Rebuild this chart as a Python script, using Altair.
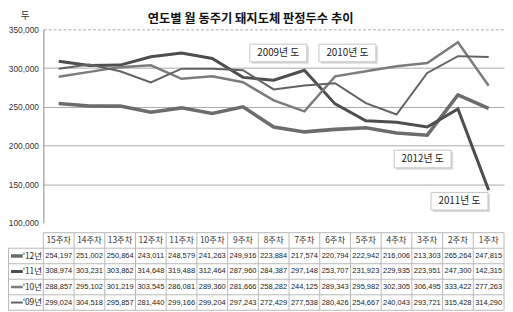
import altair as alt
import pandas as pd

# ---------------- data ----------------
title_text = "연도별 월 동주기 돼지도체 판정두수 추이"
y_unit = "두"
weeks = ["15주차", "14주차", "13주차", "12주차", "11주차", "10주차", "9주차", "8주차",
         "7주차", "6주차", "5주차", "4주차", "3주차", "2주차", "1주차"]
series = ["'12년", "'11년", "'10년", "'09년"]
v12 = [254197, 251002, 250864, 243011, 248579, 241263, 249916, 223884,
       217574, 220794, 222942, 216006, 213303, 265264, 247815]
v11 = [308974, 303231, 303862, 314648, 319488, 312464, 287960, 284387,
       297148, 253707, 231923, 229935, 223951, 247300, 142315]
v10 = [288857, 295102, 301219, 303545, 286081, 289360, 281666, 258282,
       244125, 289343, 295982, 302305, 306495, 333422, 277263]
v09 = [299024, 304518, 295857, 281440, 299166, 299204, 297243, 272429,
       277538, 280426, 254667, 240043, 293721, 315428, 314290]
y_ticks = [100000, 150000, 200000, 250000, 300000, 350000]

ann_text = ["2009년 도", "2010년 도", "2012년 도", "2011년 도"]
ann_x = [7.65, 9.9, 12.35, 13.55]
ann_y = [319500, 319500, 182500, 128000]

# ---------------- styles ----------------
colors = ["#6c6c6c", "#4e4e4e", "#7c7c7c", "#626262"]
widths = [3.6, 2.0, 2.0, 2.0]
num_font = "Liberation Sans"
kr_font = "Noto Sans CJK KR"
W, H_PLOT, H_TAB = 469, 197, 79

vals = {"'12년": v12, "'11년": v11, "'10년": v10, "'09년": v09}
rows = []
for s in series:
    for i, w in enumerate(weeks):
        rows.append({"series": s, "week": w, "pos": i + 0.5, "value": vals[s][i]})
df = pd.DataFrame(rows)

xscale = alt.Scale(domain=[0, len(weeks)], nice=False, zero=False)
yscale = alt.Scale(domain=[y_ticks[0], y_ticks[-1]], nice=False, zero=False)
cscale = alt.Scale(domain=series, range=colors)
wscale = alt.Scale(domain=series, range=widths)

yaxis = alt.Axis(
    values=y_ticks, format=",.0f", title=y_unit, titleAngle=0,
    titleX=-19, titleY=-14, titleAlign="center", titleBaseline="middle",
    titleFont=kr_font, titleFontSize=10, titleFontWeight="normal", titleColor="#333",
    labelFont="Liberation Sans", labelFontSize=8.5, labelColor="#333",
    labelPadding=5, ticks=False, minExtent=36, maxExtent=36, labelOverlap=False,
    domainColor="#888", domainWidth=1,
    gridColor={"condition": {"test": "datum.value === 100000", "value": "transparent"},
               "value": "#a8a8a8"},
    gridDash={"condition": {"test": "datum.value === 350000", "value": [3, 2]},
              "value": []},
)

lines = alt.Chart(df).mark_line().encode(
    x=alt.X("pos:Q", scale=xscale, axis=None),
    y=alt.Y("value:Q", scale=yscale, axis=yaxis),
    color=alt.Color("series:N", scale=cscale, legend=None),
    strokeWidth=alt.StrokeWidth("series:N", scale=wscale, legend=None),
    order=alt.Order("pos:Q"),
)

ann = pd.DataFrame({"text": ann_text, "x": ann_x, "value": ann_y})
box_path = "M-1,-0.31L1,-0.31L1,0.31L-1,0.31Z"
shadow = alt.Chart(ann).mark_point(shape=box_path, size=3364, filled=True, fill="#dadada",
                                   strokeWidth=0, opacity=1, xOffset=2, yOffset=2).encode(
    x=alt.X("x:Q", scale=xscale, axis=None), y=alt.Y("value:Q", scale=yscale, axis=yaxis))
boxes = alt.Chart(ann).mark_point(shape=box_path, size=3364, filled=True, fill="white",
                                  stroke="#c4c4c4", strokeWidth=1, opacity=1).encode(
    x=alt.X("x:Q", scale=xscale, axis=None), y=alt.Y("value:Q", scale=yscale, axis=yaxis))
texts = alt.Chart(ann).mark_text(font=kr_font, fontSize=10, color="#222").encode(
    x=alt.X("x:Q", scale=xscale, axis=None), y=alt.Y("value:Q", scale=yscale, axis=yaxis),
    text="text:N")

title = alt.Chart(pd.DataFrame({"t": [title_text]})).mark_text(
    font=kr_font, fontSize=12.5, fontWeight="bold", color="#111", baseline="middle").encode(
    x=alt.value(211), y=alt.value(-11), text="t:N")

top = alt.layer(lines, shadow, boxes, texts, title).properties(width=W, height=H_PLOT)

# ---------------- table ----------------
tx = alt.Scale(domain=[0, len(weeks)], nice=False, zero=False)
ty = alt.Scale(domain=[0, 5], nice=False, zero=False, reverse=True)
cells = []
for i, w in enumerate(weeks):
    cells.append({"x": i + 0.5, "y": 0.5, "t": w, "kind": "head"})
for r, s in enumerate(series):
    for i in range(len(weeks)):
        cells.append({"x": i + 0.5, "y": r + 1.5, "t": f"{vals[s][i]:,}", "kind": "num"})
cdf = pd.DataFrame(cells)

vb = pd.DataFrame({"x": list(range(len(weeks) + 1)), "y0": 0, "y1": 5})
hb_top = pd.DataFrame({"y": [0]})
hb = pd.DataFrame({"y": [1, 2, 3, 4, 5]})
lb = pd.DataFrame({"y0": [1], "y1": [5]})
rl = pd.DataFrame({"series": series, "y": [1.5, 2.5, 3.5, 4.5]})

border = "#b8b8b8"
vrules = alt.Chart(vb).mark_rule(color=border, strokeWidth=1).encode(
    x=alt.X("x:Q", scale=tx, axis=None), y=alt.Y("y0:Q", scale=ty, axis=None), y2="y1:Q")
hrule_top = alt.Chart(hb_top).mark_rule(color=border, strokeWidth=1).encode(
    x=alt.value(0), x2=alt.value(W), y=alt.Y("y:Q", scale=ty, axis=None))
hrules = alt.Chart(hb).mark_rule(color=border, strokeWidth=1).encode(
    x=alt.value(-35.5), x2=alt.value(W), y=alt.Y("y:Q", scale=ty, axis=None))
lrule = alt.Chart(lb).mark_rule(color=border, strokeWidth=1).encode(
    x=alt.value(-35.5), y=alt.Y("y0:Q", scale=ty, axis=None), y2="y1:Q")
head_txt = alt.Chart(cdf).transform_filter("datum.kind == 'head'").mark_text(
    font=kr_font, fontSize=8.5, color="#333").encode(
    x=alt.X("x:Q", scale=tx, axis=None), y=alt.Y("y:Q", scale=ty, axis=None), text="t:N")
num_txt = alt.Chart(cdf).transform_filter("datum.kind == 'num'").mark_text(
    font=num_font, fontSize=7.6, color="#222").encode(
    x=alt.X("x:Q", scale=tx, axis=None), y=alt.Y("y:Q", scale=ty, axis=None), text="t:N")
row_lab = alt.Chart(rl).mark_text(font=kr_font, fontSize=8.5, color="#222", align="right").encode(
    x=alt.value(-1.5), y=alt.Y("y:Q", scale=ty, axis=None), text="series:N")
row_line = alt.Chart(rl).mark_rule().encode(
    x=alt.value(-33), x2=alt.value(-21), y=alt.Y("y:Q", scale=ty, axis=None),
    color=alt.Color("series:N", scale=cscale, legend=None),
    strokeWidth=alt.StrokeWidth("series:N", scale=wscale, legend=None))

table = alt.layer(vrules, hrule_top, hrules, lrule, head_txt, num_txt, row_lab, row_line).properties(
    width=W, height=H_TAB)

chart = alt.vconcat(top, table, spacing=4).properties(
    padding=0, background="white"
).configure_view(stroke=None).resolve_scale(color="shared", strokeWidth="shared")

chart.save("out.html", embed_options={"renderer": "svg", "actions": False})
